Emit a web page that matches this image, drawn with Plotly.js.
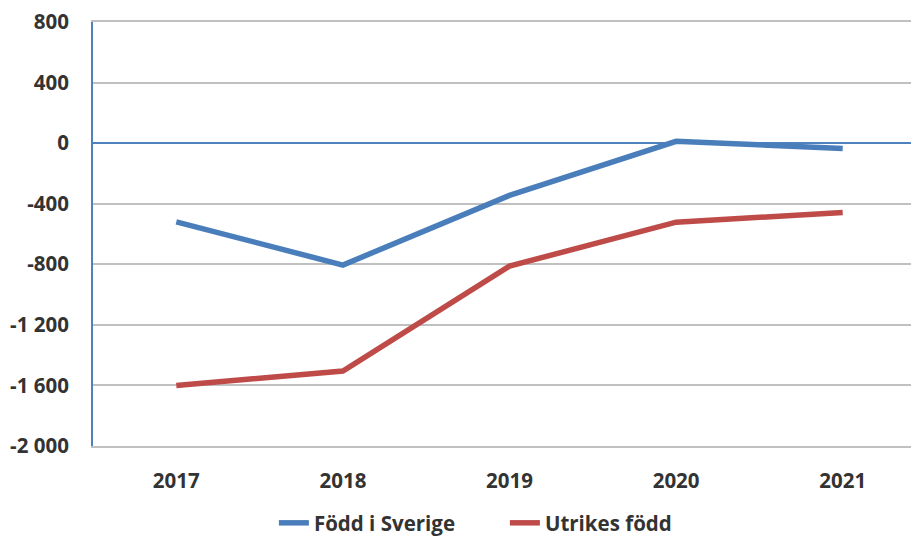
<!DOCTYPE html>
<html>
<head>
<meta charset="utf-8">
<script src="https://cdn.plot.ly/plotly-3.0.1.min.js"></script>
<style>html,body{margin:0;padding:0;background:#fff}#chart{width:913px;height:543px}</style>
</head>
<body>
<div id="chart"></div>
<script>
const years = ["2017", "2018", "2019", "2020", "2021"];
const foddISverige = [-520, -805, -345, 12, -35];
const utrikesFodd = [-1600, -1505, -812, -522, -458];
const yTickVals = [800, 400, 0, -400, -800, -1200, -1600, -2000];
const yTickText = ["800", "400", "0", "-400", "-800", "-1 200", "-1 600", "-2 000"];

const font = {family: "Open Sans, Lato, sans-serif", size: 20.5, color: "#333333", weight: 700};

const traces = [
  {x: years, y: foddISverige, name: "Född i Sverige", type: "scatter", mode: "lines",
   line: {color: "#4a7ebb", width: 5.5}},
  {x: years, y: utrikesFodd, name: "Utrikes född", type: "scatter", mode: "lines",
   line: {color: "#be4b48", width: 5.5}}
];

const layout = {
  width: 913, height: 543,
  margin: {l: 93, r: 2, t: 22, b: 97, autoexpand: false},
  paper_bgcolor: "#ffffff", plot_bgcolor: "#ffffff",
  font: font,
  showlegend: true,
  legend: {orientation: "h", x: 0.553, xanchor: "center", xref: "container",
           yref: "container", y: 0.0, yanchor: "bottom",
           font: font, entrywidth: 186, entrywidthmode: "pixels", traceorder: "normal"},
  xaxis: {type: "category", range: [-0.5, 4.41], showgrid: false, zeroline: false,
          showline: true, mirror: true, linecolor: "#c0c0c0", linewidth: 2,
          ticks: "", ticklabelstandoff: 15, tickfont: font, fixedrange: true, automargin: false},
  yaxis: {range: [-2000, 800], tickvals: yTickVals, ticktext: yTickText,
          showgrid: true, gridcolor: "#c0c0c0", gridwidth: 2,
          zeroline: true, zerolinecolor: "#4f81bd", zerolinewidth: 2,
          showline: true, linecolor: "#4f81bd", linewidth: 2,
          ticks: "", ticklabelstandoff: 18, tickfont: font, fixedrange: true, automargin: false}
};

Plotly.newPlot("chart", traces, layout, {displayModeBar: false, staticPlot: true});
</script>
</body>
</html>
